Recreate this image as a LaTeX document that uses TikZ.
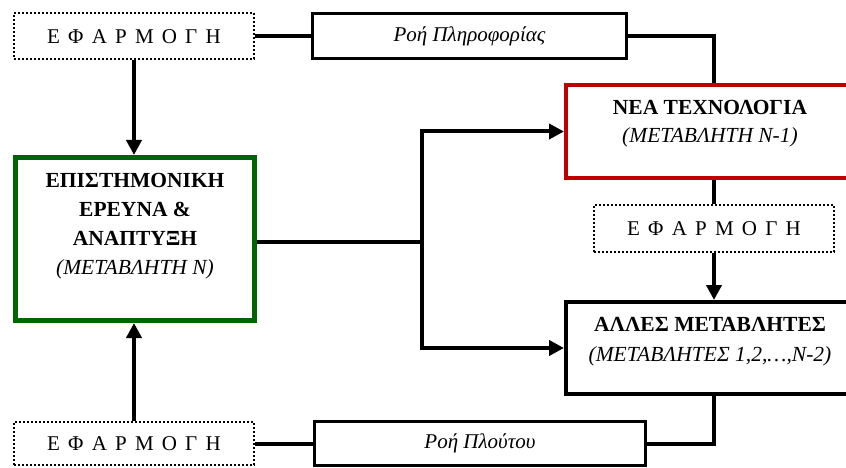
\documentclass[tikz,border=0pt]{standalone}
\usepackage{fontspec}
\setmainfont{Liberation Serif}
\usetikzlibrary{arrows.meta}
\definecolor{boxred}{RGB}{192,0,0}
\definecolor{boxgreen}{RGB}{0,100,0}
\begin{document}
\begin{tikzpicture}[x=1pt,y=-1pt,
  dotbox/.style={draw, line width=2pt, dash pattern=on 2pt off 2pt, inner sep=0pt,
    font={\fontsize{21}{25}\selectfont\spaceskip=8.2pt}},
  flowbox/.style={draw, line width=3pt, inner sep=0pt, font=\fontsize{21}{25}\selectfont\itshape},
  mainbox/.style={draw, line width=4pt, inner sep=0pt},
  conn/.style={line width=4pt},
  arr/.style={line width=4pt, -{Triangle[length=15pt,width=15pt]}},
  lbl/.style={align=center, inner sep=0pt}]
\clip (0,0) rectangle (846,468);
\fill[white] (0,0) rectangle (846,468);
% boxes
\node[dotbox, minimum width=240pt, minimum height=46pt] (topE) at (134,36.5) {Ε Φ Α Ρ Μ Ο Γ Η};
\node[flowbox, minimum width=314pt, minimum height=45pt] (info) at (469.5,36) {Ροή Πληροφορίας};
\node[mainbox, draw=boxgreen, line width=5pt, minimum width=239pt, minimum height=163pt] (research) at (135,239) {};
\node[mainbox, draw=boxred, minimum width=288pt, minimum height=93pt] (newtech) at (710,131.5) {};
\node[dotbox, minimum width=240pt, minimum height=47pt] (midE) at (714,228.5) {Ε Φ Α Ρ Μ Ο Γ Η};
\node[mainbox, minimum width=288pt, minimum height=92pt] (others) at (710,348) {};
\node[dotbox, minimum width=240pt, minimum height=43pt] (botE) at (134,443.5) {Ε Φ Α Ρ Μ Ο Γ Η};
\node[flowbox, minimum width=331pt, minimum height=44pt] (wealth) at (480,443.5) {Ροή Πλούτου};
% box texts
\node[lbl, font=\fontsize{21.5}{29}\selectfont] (researchtxt) at (135,226)
  {\textbf{ΕΠΙΣΤΗΜΟΝΙΚΗ}\\\textbf{ΕΡΕΥΝΑ \&}\\\textbf{ΑΝΑΠΤΥΞΗ}\\\textit{(ΜΕΤΑΒΛΗΤΗ Ν)}};
\node[lbl, font=\fontsize{21.5}{28}\selectfont] (newtechtxt) at (710,124)
  {\textbf{ΝΕΑ ΤΕΧΝΟΛΟΓΙΑ}\\\textit{(ΜΕΤΑΒΛΗΤΗ Ν-1)}};
\node[lbl, font=\fontsize{21.5}{30}\selectfont] (otherstxt) at (710,342)
  {\textbf{ΑΛΛΕΣ ΜΕΤΑΒΛΗΤΕΣ}\\\textit{(ΜΕΤΑΒΛΗΤΕΣ 1,2,…,Ν-2)}};
% connectors
\coordinate (tr) at (714,36);
\coordinate (br) at (422,242);
\draw[conn] (topE.east) -- (topE.east -| info.west);
\draw[conn] (info.east) -- (tr) -- (tr |- newtech.north);
\draw[arr] (topE.south) -- (topE.south |- research.north);
\draw[arr] (botE.north) -- (botE.north |- research.south);
\draw[conn] (research.east |- br) -- (br);
\draw[arr] (br) |- (newtech.west);
\draw[arr] (br) |- (others.west);
\draw[conn] (midE.north |- newtech.south) -- (midE.north);
\draw[arr] (midE.south) -- (midE.south |- others.north);
\draw[conn] (midE.south |- others.south) |- (wealth.east);
\draw[conn] (botE.east) -- (wealth.west);
\end{tikzpicture}
\end{document}
